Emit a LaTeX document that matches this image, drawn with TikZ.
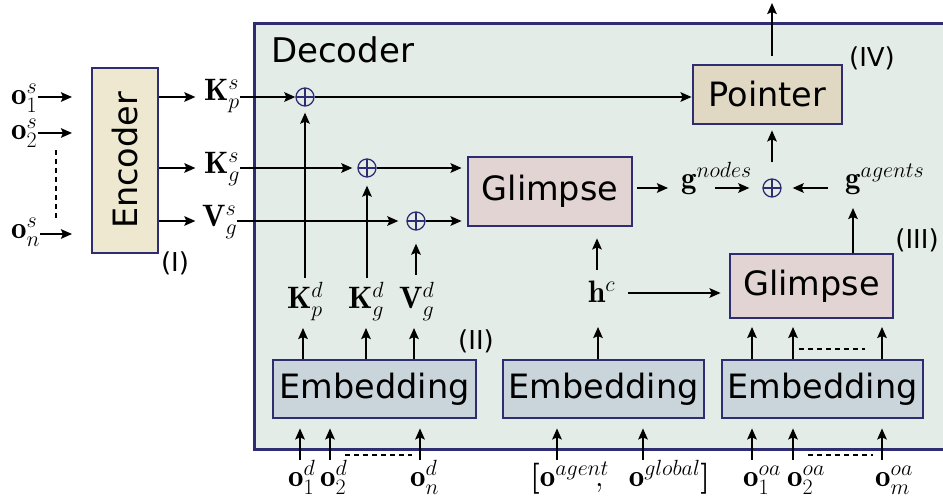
\documentclass[tikz,border=0pt]{standalone}
\usepackage{fix-cm}
\usepackage{fontspec}
\setsansfont{DejaVu Sans}
\DeclareMathSizes{31}{31}{22}{17}
\usetikzlibrary{arrows.meta,calc}
\definecolor{navy}{HTML}{2E2D72}
\definecolor{decfill}{HTML}{E4ECE7}
\definecolor{encfill}{HTML}{EDE8CF}
\definecolor{ptrfill}{HTML}{E1D8C4}
\definecolor{glfill}{HTML}{E1D4D2}
\definecolor{embfill}{HTML}{C9D5DB}
\tikzset{
  box/.style={draw=navy, line width=2.8pt, inner sep=0pt, font=\fontsize{33.5}{40}\sffamily\selectfont},
  arr/.style={-{Stealth[length=11pt,width=9.5pt,inset=2pt]}, line width=1.9pt},
  dashln/.style={line width=1.6pt, dash pattern=on 5pt off 4pt},
  lab/.style={inner sep=0pt, anchor=base west, font=\fontsize{31}{36}\selectfont},
  tag/.style={font=\fontsize{26}{31}\sffamily\selectfont, inner sep=0pt},
  plus/.style={circle, draw=navy, line width=1.3pt, minimum size=18pt, inner sep=0pt,
    path picture={\draw[navy,line width=1.3pt] (path picture bounding box.north) -- (path picture bounding box.south)
      (path picture bounding box.west) -- (path picture bounding box.east);}},
}
\begin{document}
\begin{tikzpicture}[x=1pt,y=-1pt]
\useasboundingbox (0,0) rectangle (943,502);
\fill[white] (0,0) rectangle (943,502);
% decoder frame
\node[draw=navy, fill=decfill, line width=2.8pt, minimum width=700pt, minimum height=426pt, anchor=north west, inner sep=0pt] (dec) at (253,22) {};
\node[anchor=base west, inner sep=0pt, font=\fontsize{34}{40}\sffamily\selectfont] (dectxt) at (271,63) {Decoder};

% encoder
\node[box, fill=encfill, minimum width=66pt, minimum height=185pt] (enc) at (125,160.5) {\rotatebox{90}{Encoder}};
\node[tag] (t1) at (175,263) {(I)};

% encoder inputs
\node[lab] (o1s) at (11,105) {$\mathbf{o}_1^s$};
\node[lab] (o2s) at (11,140) {$\mathbf{o}_2^s$};
\node[lab] (ons) at (11,239) {$\mathbf{o}_n^s$};
\coordinate (e1) at (72,97);
\coordinate (e2) at (72,133);
\coordinate (e3) at (72,234);
\draw[arr] (o1s.east |- e1) -- (e1);
\draw[arr] (o2s.east |- e2) -- (e2);
\draw[arr] (ons.east |- e3) -- (e3);
\coordinate (d1) at (56,150);
\coordinate (d2) at (56,218);
\draw[dashln] (d1) -- (d2);

% plus nodes
\node[plus] (p1) at (305,97) {};
\node[plus] (p2) at (367,168) {};
\node[plus] (p3) at (416,221) {};
\node[plus] (p4) at (772,188) {};

% encoder outputs
\node[lab] (Kps) at (204,101) {$\mathbf{K}_p^s$};
\node[lab] (Kgs) at (204,174) {$\mathbf{K}_g^s$};
\node[lab] (Vgs) at (202,227) {$\mathbf{V}_g^s$};
\draw[arr] (enc.east |- p1) -- ++(36,0);
\draw[arr] (enc.east |- p2) -- ++(36,0);
\draw[arr] (enc.east |- p3) -- ++(36,0);
\draw[arr] (Kps.east |- p1) -- (p1.west);
\draw[arr, shorten >=5pt] (Kgs.east |- p2) -- (p2.west);
\draw[arr, shorten >=8pt] (Vgs.east |- p3) -- (p3.west);

% boxes
\node[box, fill=ptrfill, minimum width=149pt, minimum height=59pt] (ptr) at (767.5,94.5) {Pointer};
\node[box, fill=glfill, minimum width=164pt, minimum height=69pt] (gl1) at (550,191.5) {Glimpse};
\node[box, fill=glfill, minimum width=163pt, minimum height=64pt] (gl2) at (811.5,286) {Glimpse};
\node[box, fill=embfill, minimum width=203pt, minimum height=58pt] (emb1) at (374.5,389) {Embedding};
\node[box, fill=embfill, minimum width=201pt, minimum height=58pt] (emb2) at (603.5,389) {Embedding};
\node[box, fill=embfill, minimum width=201pt, minimum height=58pt] (emb3) at (822.5,389) {Embedding};

\node[tag] (t2) at (476,341) {(II)};
\node[tag] (t3) at (917,240) {(III)};
\node[tag] (t4) at (872,58) {(IV)};

\draw[arr] (p1.east) -- (ptr.west |- p1);
\draw[arr, shorten >=5pt] (p2.east) -- (gl1.west |- p2);
\draw[arr, shorten >=5pt] (p3.east) -- (gl1.west |- p3);

% pointer output
\coordinate (out) at (772,3);
\draw[arr, shorten <=8pt] (ptr.north -| out) -- (out);

% g labels
\node[lab] (gn) at (681,189) {$\mathbf{g}^{nodes}$};
\node[lab] (ga) at (845,189) {$\mathbf{g}^{agents}$};
\draw[arr, shorten <=4pt, shorten >=13pt] (gl1.east |- p4) -- (gn.west |- p4);
\coordinate (gnx) at (715,188);
\draw[arr, shorten >=13pt] (gnx) -- (p4.west);
\draw[arr, shorten <=17pt, shorten >=11pt] (ga.west |- p4) -- (p4.east);
\coordinate (gax) at (853,208);
\draw[arr] (gl2.north -| gax) -- (gax);
\draw[arr, shorten <=16pt, shorten >=5pt] (p4.north) -- (ptr.south -| p4);

% h^c
\node[lab] (hc) at (588,303) {$\mathbf{h}^c$};
\coordinate (hcy) at (628,293);
\draw[arr, shorten >=8pt] (hcy) -- (gl2.west |- hcy);
\coordinate (hcu) at (597,270);
\draw[arr, shorten >=11pt] (hcu) -- (gl1.south -| hcu);
\coordinate (hcb) at (598,327);
\draw[arr] (emb2.north -| hcb) -- (hcb);

% K^d labels
\node[lab] (Kpd) at (287,309) {$\mathbf{K}_p^d$};
\node[lab] (Kgd) at (348,309) {$\mathbf{K}_g^d$};
\node[lab] (Vgd) at (399,309) {$\mathbf{V}_g^d$};
\coordinate (a1) at (303,328);
\coordinate (a2) at (366,328);
\coordinate (a3) at (414,328);
\draw[arr] (emb1.north -| a1) -- (a1);
\draw[arr] (emb1.north -| a2) -- (a2);
\draw[arr] (emb1.north -| a3) -- (a3);
\coordinate (c1) at (305,278);
\coordinate (c2) at (367,278);
\coordinate (c3) at (416,275);
\draw[arr, shorten >=6pt] (c1) -- (p1.south);
\draw[arr, shorten >=8pt] (c2) -- (p2.south);
\draw[arr, shorten >=13pt] (c3) -- (p3.south);

% bottom inputs, group 1
\node[lab] (o1d) at (288,487) {$\mathbf{o}_1^d$};
\node[lab] (o2d) at (320,487) {$\mathbf{o}_2^d$};
\node[lab] (ond) at (410,487) {$\mathbf{o}_n^d$};
\coordinate (b1) at (300,460);
\coordinate (b2) at (330,460);
\coordinate (b3) at (420,460);
\draw[arr, shorten >=9pt] (b1) -- (emb1.south -| b1);
\draw[arr, shorten >=9pt] (b2) -- (emb1.south -| b2);
\draw[arr, shorten >=9pt] (b3) -- (emb1.south -| b3);
\coordinate (dd1) at (345,455);
\coordinate (dd2) at (412,455);
\draw[dashln] (dd1) -- (dd2);

% bottom inputs, group 2
\node[lab] (oag) at (530,487) {\bfseries [$\mathbf{o}^{agent}\mkern-8mu,\hspace{20pt}\mathbf{o}^{global}$]};
\coordinate (b4) at (557,460);
\coordinate (b5) at (643,460);
\draw[arr, shorten >=9pt] (b4) -- (emb2.south -| b4);
\draw[arr, shorten >=9pt] (b5) -- (emb2.south -| b5);

% bottom inputs, group 3
\node[lab] (o1a) at (743,487) {$\mathbf{o}_1^{oa}$};
\node[lab] (o2a) at (787,487) {$\mathbf{o}_2^{oa}$};
\node[lab] (oma) at (875,487) {$\mathbf{o}_m^{oa}$};
\coordinate (b6) at (752,460);
\coordinate (b7) at (793,460);
\coordinate (b8) at (882,460);
\draw[arr, shorten >=9pt] (b6) -- (emb3.south -| b6);
\draw[arr, shorten >=9pt] (b7) -- (emb3.south -| b7);
\draw[arr, shorten >=9pt] (b8) -- (emb3.south -| b8);
\coordinate (dd3) at (808,455);
\coordinate (dd4) at (873,455);
\draw[dashln] (dd3) -- (dd4);

% embedding 3 to glimpse 2
\coordinate (u6) at (752,327);
\coordinate (u7) at (793,327);
\coordinate (u8) at (882,327);
\draw[arr] (emb3.north -| u6) -- (u6);
\draw[arr] (emb3.north -| u7) -- (u7);
\draw[arr] (emb3.north -| u8) -- (u8);
\coordinate (dd5) at (799,349);
\coordinate (dd6) at (865,349);
\draw[dashln] (dd5) -- (dd6);
\end{tikzpicture}
\end{document}
